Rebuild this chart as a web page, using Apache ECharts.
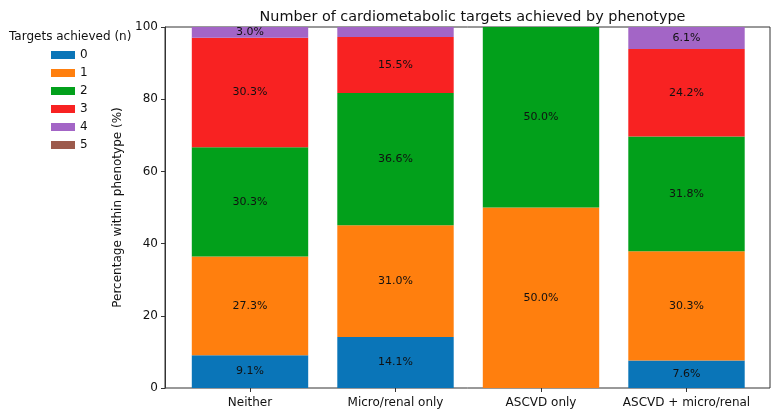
<!DOCTYPE html>
<html>
<head>
<meta charset="utf-8">
<script src="https://cdn.jsdelivr.net/npm/echarts@6/dist/echarts.min.js"></script>
<style>
  html, body { margin: 0; padding: 0; background: #fff; }
  #chart { width: 780px; height: 416px; }
</style>
</head>
<body>
<div id="chart"></div>
<script>
const categories = ['Neither', 'Micro/renal only', 'ASCVD only', 'ASCVD + micro/renal']
const targetLevels = ['0', '1', '2', '3', '4', '5']
// percentage of each phenotype achieving n targets
const achieved0 = [9.1, 14.1, 0, 7.6]
const achieved1 = [27.3, 31.0, 50.0, 30.3]
const achieved2 = [30.3, 36.6, 50.0, 31.8]
const achieved3 = [30.3, 15.5, 0, 24.2]
const achieved4 = [3.0, 2.8, 0, 6.1]
const achieved5 = [0, 0, 0, 0]

const colors = ['#0a75b8', '#ff7f0e', '#02a01b', '#f82222', '#a365c6', '#9c5a4c']
const FONT = 'DejaVu Sans'
const TXT = '#111'

const chart = echarts.init(document.getElementById('chart'))

const allSeries = [achieved0, achieved1, achieved2, achieved3, achieved4, achieved5]

const series = allSeries.map((vals, k) => ({
  name: targetLevels[k],
  type: 'bar',
  stack: 'total',
  barWidth: '80%',
  xAxisIndex: 0,
  yAxisIndex: 0,
  itemStyle: { color: colors[k] },
  label: {
    show: true,
    position: 'inside',
    color: TXT,
    fontFamily: FONT,
    fontSize: 11,
    formatter: (p) => (p.value >= 3 ? p.value.toFixed(1) + '%' : '')
  },
  data: vals
}))

chart.setOption({
  animation: false,
  color: colors,
  textStyle: { fontFamily: FONT },
  title: [
    {
      text: 'Number of cardiometabolic targets achieved by phenotype',
      left: 467.5,
      textAlign: 'center',
      top: 5,
      textStyle: { fontFamily: FONT, fontSize: 14.4, fontWeight: 'normal', color: TXT }
    },
    {
      text: 'Targets achieved (n)',
      left: 4,
      top: 26,
      textStyle: { fontFamily: FONT, fontSize: 12, fontWeight: 'normal', color: TXT }
    }
  ],
  legend: {
    orient: 'vertical',
    left: 46,
    top: 44,
    itemWidth: 24,
    itemHeight: 8,
    itemGap: 6,
    icon: 'rect',
    data: targetLevels,
    textStyle: { fontFamily: FONT, fontSize: 12, color: TXT }
  },
  grid: [
    // bars: category bands matched to matplotlib's bar spacing
    { left: 177.25, right: 20.75, top: 27, bottom: 28 },
    // frame + y axis
    { left: 165, right: 10, top: 27, bottom: 28, show: true, borderColor: '#333', borderWidth: 1 }
  ],
  xAxis: [
    {
      gridIndex: 0,
      type: 'category',
      data: categories,
      axisLine: { show: false },
      axisTick: { show: true, length: 4, alignWithLabel: true, lineStyle: { color: '#333' } },
      axisLabel: { interval: 0, color: TXT, fontFamily: FONT, fontSize: 12, margin: 9 }
    },
    {
      gridIndex: 1,
      type: 'value',
      min: 0,
      max: 1,
      show: false
    }
  ],
  yAxis: [
    {
      gridIndex: 0,
      type: 'value',
      min: 0,
      max: 100,
      show: false
    },
    {
      gridIndex: 1,
      type: 'value',
      min: 0,
      max: 100,
      interval: 20,
      name: 'Percentage within phenotype (%)',
      nameLocation: 'middle',
      nameGap: 27,
      nameTextStyle: { fontFamily: FONT, fontSize: 12, color: TXT },
      splitLine: { show: false },
      axisLine: { show: true, onZero: false, lineStyle: { color: '#333' } },
      axisTick: { show: true, length: 4, lineStyle: { color: '#333' } },
      axisLabel: { color: TXT, fontFamily: FONT, fontSize: 12, margin: 7 }
    }
  ],
  series: series
})
</script>
</body>
</html>
